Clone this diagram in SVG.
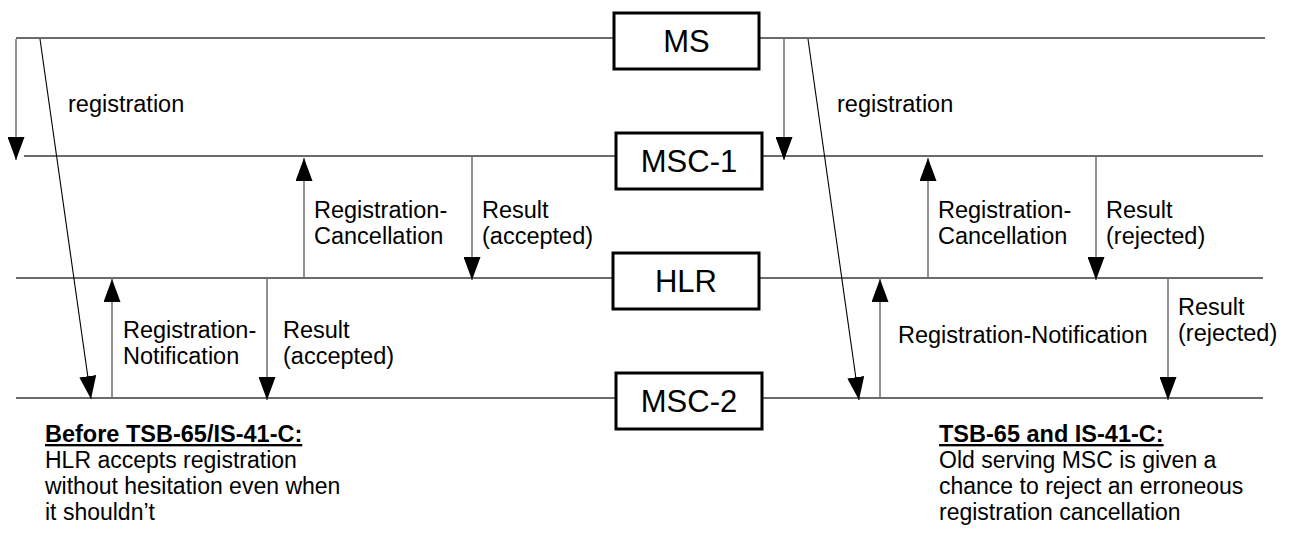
<svg xmlns="http://www.w3.org/2000/svg" width="1289" height="537" viewBox="0 0 1289 537">
<style>
  .life { stroke:#3a3a3a; stroke-width:1.5; fill:none; }
  .box { fill:#fff; stroke:#000; stroke-width:3; }
  .nlabel { font-family:"Liberation Sans", Arial, sans-serif; font-size:31px; fill:#000; text-anchor:middle; }
  .msg { stroke:#777; stroke-width:1.6; fill:none; marker-end:url(#ah); }
  .slant { stroke:#000; stroke-width:1.1; fill:none; marker-end:url(#ah); }
  .lbl { font-family:"Liberation Sans", Arial, sans-serif; font-size:23.5px; fill:#000; }
  .note { font-family:"Liberation Sans", Arial, sans-serif; font-size:23px; fill:#000; }
  .head { font-weight:bold; text-decoration:underline; font-size:23.5px; }
</style>
<defs>
  <marker id="ah" markerUnits="userSpaceOnUse" markerWidth="23" markerHeight="17" refX="23" refY="8.5" orient="auto" viewBox="0 0 23 17">
    <path d="M0,0 L23,8.5 L0,17 z" fill="#000"/>
  </marker>
</defs>

<g id="lifelines">
  <line class="life" x1="16" y1="38" x2="614" y2="38"/>
  <line class="life" x1="759" y1="38" x2="1265" y2="38"/>
  <line class="life" x1="24" y1="156" x2="616" y2="156"/>
  <line class="life" x1="762" y1="156" x2="1263" y2="156"/>
  <line class="life" x1="16" y1="278" x2="613" y2="278"/>
  <line class="life" x1="759" y1="278" x2="1263" y2="278"/>
  <line class="life" x1="16" y1="398" x2="616" y2="398"/>
  <line class="life" x1="762" y1="398" x2="1263" y2="398"/>
</g>

<g id="node-MS">
  <rect class="box" x="614" y="13" width="145" height="56"/>
  <text class="nlabel" x="686.5" y="52">MS</text>
</g>
<g id="node-MSC-1">
  <rect class="box" x="616" y="133" width="146" height="56"/>
  <text class="nlabel" x="689" y="172">MSC-1</text>
</g>
<g id="node-HLR">
  <rect class="box" x="613" y="253" width="146" height="56"/>
  <text class="nlabel" x="686" y="292">HLR</text>
</g>
<g id="node-MSC-2">
  <rect class="box" x="616" y="373" width="146" height="56"/>
  <text class="nlabel" x="689" y="412">MSC-2</text>
</g>

<g id="connectors">
  <!-- left scenario -->
  <line class="msg" x1="16" y1="39" x2="16" y2="160"/>
  <line class="slant" x1="40" y1="39" x2="91" y2="399"/>
  <line class="msg" x1="304" y1="278" x2="304" y2="158"/>
  <line class="msg" x1="472" y1="157" x2="472" y2="280"/>
  <line class="msg" x1="112" y1="398" x2="112" y2="279"/>
  <line class="msg" x1="267" y1="279" x2="267" y2="400"/>
  <!-- right scenario -->
  <line class="msg" x1="784" y1="39" x2="784" y2="160"/>
  <line class="slant" x1="808" y1="39" x2="859" y2="400"/>
  <line class="msg" x1="928" y1="278" x2="928" y2="158"/>
  <line class="msg" x1="1096" y1="157" x2="1096" y2="280"/>
  <line class="msg" x1="880" y1="398" x2="880" y2="279"/>
  <line class="msg" x1="1168" y1="279" x2="1168" y2="400"/>
</g>

<g id="labels">
  <text class="lbl" x="68" y="112">registration</text>
  <text class="lbl" x="314" y="218">Registration-</text>
  <text class="lbl" x="314" y="244">Cancellation</text>
  <text class="lbl" x="482" y="218">Result</text>
  <text class="lbl" x="482" y="244">(accepted)</text>
  <text class="lbl" x="123" y="338">Registration-</text>
  <text class="lbl" x="123" y="364">Notification</text>
  <text class="lbl" x="283" y="338">Result</text>
  <text class="lbl" x="283" y="364">(accepted)</text>

  <text class="lbl" x="837" y="112">registration</text>
  <text class="lbl" x="938" y="218">Registration-</text>
  <text class="lbl" x="938" y="244">Cancellation</text>
  <text class="lbl" x="1106" y="218">Result</text>
  <text class="lbl" x="1106" y="244">(rejected)</text>
  <text class="lbl" x="898" y="343">Registration-Notification</text>
  <text class="lbl" x="1178" y="315">Result</text>
  <text class="lbl" x="1178" y="341">(rejected)</text>
</g>

<g id="note-left">
  <text class="note head" x="45" y="442">Before TSB-65/IS-41-C:</text>
  <text class="note" x="45" y="468">HLR accepts registration</text>
  <text class="note" x="45" y="494">without hesitation even when</text>
  <text class="note" x="45" y="520">it shouldn’t</text>
</g>
<g id="note-right">
  <text class="note head" x="939" y="442">TSB-65 and IS-41-C:</text>
  <text class="note" x="939" y="468">Old serving MSC is given a</text>
  <text class="note" x="939" y="494">chance to reject an erroneous</text>
  <text class="note" x="939" y="520">registration cancellation</text>
</g>
</svg>
